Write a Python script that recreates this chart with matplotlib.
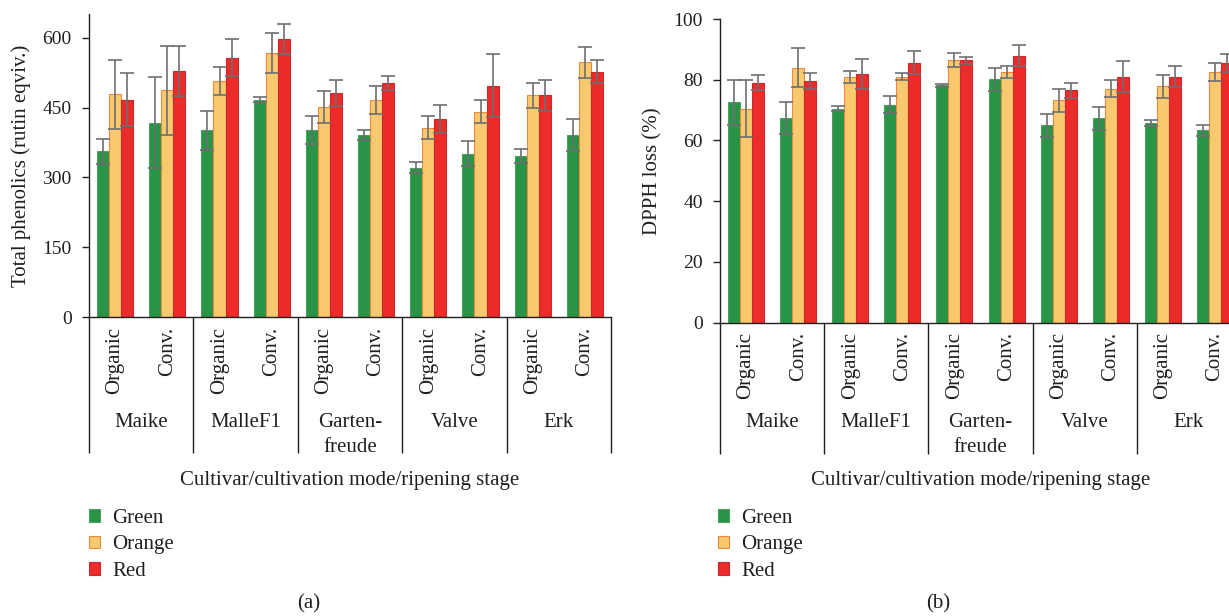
import matplotlib.pyplot as plt
import matplotlib.transforms as mtransforms
from matplotlib.patches import Patch
import numpy as np

W, H = 1229, 616

modes = ['Organic', 'Conv.'] * 5
cultivars = ['Maike', 'MalleF1', 'Garten-\nfreude', 'Valve', 'Erk']
stages = ['Green', 'Orange', 'Red']

# (a) total phenolics, rutin eqviv.
tp_green = [356, 417, 401, 467, 401, 391, 321, 351, 346, 391]
tp_green_err = [27, 98, 42, 5, 30, 10, 12, 27, 15, 35]
tp_orange = [478, 487, 507, 567, 451, 466, 407, 441, 476, 547]
tp_orange_err = [75, 95, 30, 43, 35, 30, 25, 25, 26, 33]
tp_red = [467, 528, 557, 598, 481, 503, 426, 497, 476, 527]
tp_red_err = [57, 54, 40, 32, 28, 15, 30, 68, 33, 25]

# (b) DPPH loss, %
dp_green = [72.5, 67.5, 70.5, 71.8, 78.2, 80.2, 65.0, 67.3, 65.7, 63.4]
dp_green_err = [7.3, 5.3, 0.8, 2.8, 0.5, 3.8, 3.8, 3.8, 1.1, 1.8]
dp_orange = [70.5, 84.0, 81.0, 81.0, 86.4, 82.5, 73.3, 77.1, 77.9, 82.5]
dp_orange_err = [9.5, 6.5, 2.0, 1.2, 2.3, 2.0, 3.8, 2.7, 3.8, 3.0]
dp_red = [79.0, 79.5, 81.8, 85.6, 86.4, 87.9, 76.5, 81.0, 81.0, 85.6]
dp_red_err = [2.5, 2.7, 5.0, 3.8, 1.2, 3.4, 2.5, 5.0, 3.4, 3.0]

fills = ['#2a9446', '#f9c96f', '#ec2b2b']
edges = ['#4f9e63', '#ee8a3c', '#c9292b']
ink = '#231f20'
err_col = '#6d6e71'


def fx(x):
    return x / W


def fy(y):
    return 1 - y / H


def panel(fig, left, right, bottom, top, series, errs, ymax, yticks,
          ylabel, sep_len, leg_x):
    ax = fig.add_axes([fx(left), fy(bottom), fx(right - left), (bottom - top) / H])
    x = np.arange(10)
    w = 0.23
    for i in range(3):
        ax.bar(x + (i - 1) * w, series[i], w, color=fills[i], edgecolor=edges[i],
               linewidth=0.8, zorder=2)
        ax.errorbar(x + (i - 1) * w, series[i], yerr=errs[i], fmt='none',
                    ecolor=err_col, elinewidth=1.2, capsize=4.8, capthick=1.2, zorder=3)

    ax.set_xlim(-0.5, 9.5)
    ax.set_ylim(0, ymax)
    ax.set_yticks(yticks)
    for s in ['top', 'right']:
        ax.spines[s].set_visible(False)
    for s in ['left', 'bottom']:
        ax.spines[s].set_color(ink)
        ax.spines[s].set_linewidth(1.0)

    ax.tick_params(axis='y', direction='out', length=5, width=1.0, colors=ink,
                   labelsize=14, pad=7.5)
    ax.set_xticks(x)
    ax.set_xticklabels(modes, rotation=90, fontsize=15, color=ink)
    ax.tick_params(axis='x', which='major', length=0, pad=7)
    # group dividers drawn as long minor ticks
    ax.set_xticks(np.arange(-0.5, 10, 2), minor=True)
    ax.tick_params(axis='x', which='minor', length=sep_len, width=1.0, color=ink)
    ax.set_ylabel(ylabel, fontsize=15, color=ink, labelpad=8)

    tr = mtransforms.blended_transform_factory(ax.transData, fig.transFigure)
    for k, name in enumerate(cultivars):
        ax.text(2 * k + 0.5, fy(413), name, transform=tr, ha='center', va='top',
                fontsize=15, color=ink, linespacing=1.4)

    mid = (left + right) / 2
    fig.text(fx(mid), fy(480), 'Cultivar/cultivation mode/ripening stage',
             ha='center', va='center', fontsize=15, color=ink)

    handles = [Patch(facecolor=fills[i], edgecolor=edges[i], linewidth=0.8)
               for i in range(3)]
    fig.legend(handles, stages, loc='upper left', bbox_to_anchor=(fx(leg_x), fy(509)),
               frameon=False, fontsize=15, handlelength=0.55, handleheight=0.55,
               handletextpad=0.55, labelspacing=0.36, borderpad=0, borderaxespad=0,
               labelcolor=ink)
    return ax


def main():
    plt.rcParams['font.family'] = ['Liberation Serif', 'DejaVu Serif']
    fig = plt.figure(figsize=(W / 100, H / 100), dpi=100)

    panel(fig, 89, 611, 317, 14.4,
          [tp_green, tp_orange, tp_red],
          [tp_green_err, tp_orange_err, tp_red_err],
          650, [0, 150, 300, 450, 600], 'Total phenolics (rutin eqviv.)', 98, 89)
    panel(fig, 720, 1241, 322.5, 19,
          [dp_green, dp_orange, dp_red],
          [dp_green_err, dp_orange_err, dp_red_err],
          100, [0, 20, 40, 60, 80, 100], 'DPPH loss (%)', 94, 718)

    fig.text(fx(309), fy(604), '(a)', ha='center', va='center', fontsize=15, color=ink)
    fig.text(fx(938), fy(604), '(b)', ha='center', va='center', fontsize=15, color=ink)

    fig.savefig('out.png', dpi=100)


if __name__ == '__main__':
    main()
